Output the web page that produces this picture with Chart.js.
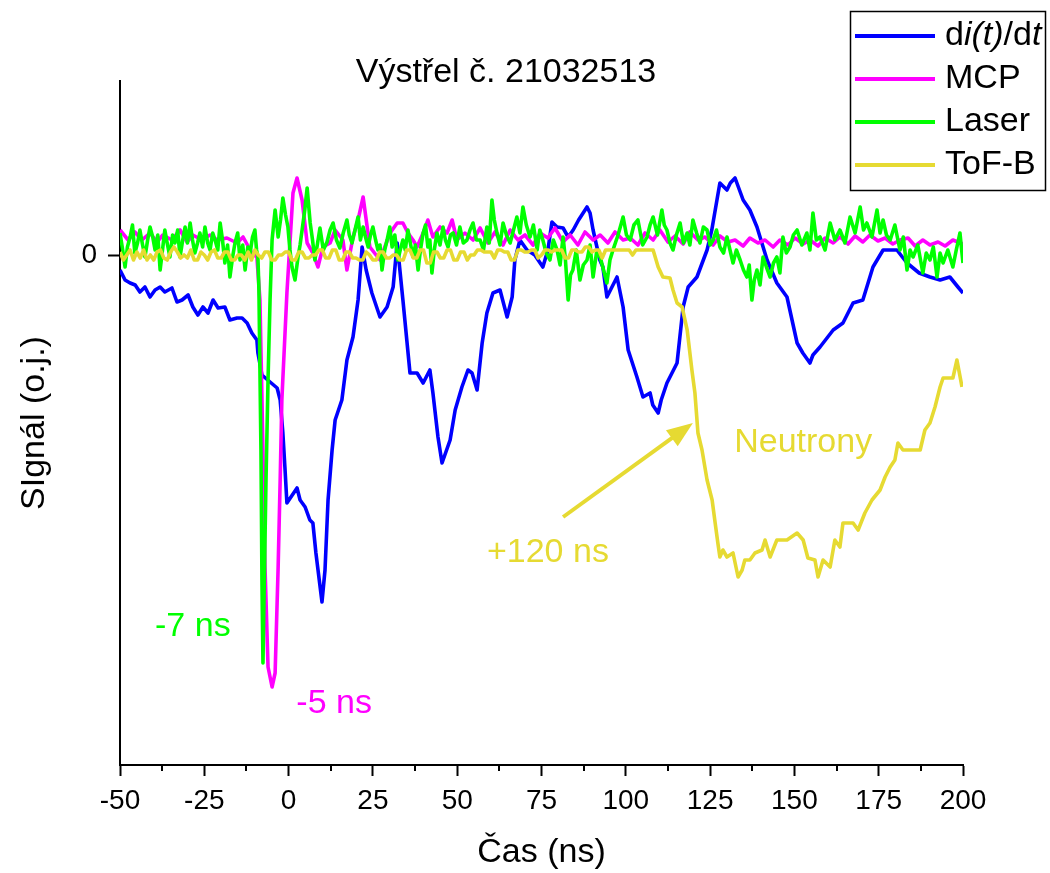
<!DOCTYPE html>
<html>
<head>
<meta charset="utf-8">
<title>Výstřel č. 21032513</title>
<script src="https://cdn.jsdelivr.net/npm/chart.js@4.4.1/dist/chart.umd.min.js"></script>
<style>
  html, body { margin: 0; padding: 0; background: #fff; }
  canvas { display: block; }
</style>
</head>
<body>
<canvas id="shotChart" width="1050" height="873"></canvas>
<script>
const FONT = "'Liberation Sans', Arial, sans-serif";

const chartTitle = 'Výstřel č. 21032513';
const xTitle = 'Čas (ns)';
const yTitle = 'SIgnál (o.j.)';
// *...* = italic part of the legend text
const seriesNames = ['d*i(t)*/d*t*', 'MCP', 'Laser', 'ToF-B'];
const seriesColors = ['#0000ff', '#ff00ff', '#00ff00', '#e6da32'];

const xTicks = [-50, -25, 0, 25, 50, 75, 100, 125, 150, 175, 200];
const xMinorTicks = [-37.5, -12.5, 12.5, 37.5, 62.5, 87.5, 112.5, 137.5, 162.5, 187.5];
const yTicks = [0];

// di(t)/dt
const diTime = [
  -50, -48.5, -47.0, -45.5, -44.1, -42.6, -41.1, -39.6, -38.1, -36.7,
  -34.6, -33.1, -31.6, -29.8, -28.4, -26.9, -25.4, -23.9, -22.4, -20.9,
  -18.9, -17.4, -15.3, -13.8, -12.3, -10.9, -9.4, -9.1, -7.9, -5.5,
  -3.4, -2.5, -1.7, -1.1, -0.5, 2.5, 3.4, 4.9, 6.3, 7.2,
  8.1, 9.9, 10.8, 11.7, 12.9, 13.8, 15.8, 17.3, 19.1, 20.6,
  21.8, 23.0, 24.7, 27.1, 29.2, 31.0, 32.2, 33.9, 36.0, 38.1,
  39.9, 41.9, 42.8, 44.3, 45.5, 47.9, 49.4, 51.4, 53.2, 54.4,
  55.9, 57.4, 58.8, 60.6, 62.7, 64.8, 66.3, 67.1, 68.6, 70.7,
  73.0, 75.4, 76.9, 78.1, 79.6, 81.4, 82.9, 84.4, 86.0, 88.5,
  89.4, 90.3, 92.3, 93.2, 94.4, 97.4, 99.2, 100.7, 103.3, 105.1,
  107.2, 108.0, 109.6, 110.5, 112.2, 115.2, 117.0, 118.5, 121.1, 124.1,
  125.5, 127.9, 130.0, 131.0, 132.4, 134.8, 136.8, 138.9, 141.9, 144.8,
  147.8, 150.8, 152.5, 154.6, 155.5, 157.6, 161.5, 164.4, 167.4, 170.3,
  173.3, 176.3, 180.4, 183.4, 187.0, 190.2, 193.2, 196.1, 198.5, 200.0
];
const diSignal = [
  -0.15, -0.25, -0.28, -0.30, -0.37, -0.32, -0.42, -0.35, -0.32, -0.37,
  -0.33, -0.47, -0.45, -0.40, -0.52, -0.60, -0.52, -0.58, -0.45, -0.53,
  -0.52, -0.65, -0.63, -0.63, -0.68, -0.78, -0.85, -0.98, -1.20, -1.27,
  -1.33, -1.45, -1.78, -2.12, -2.48, -2.33, -2.45, -2.52, -2.65, -2.68,
  -2.98, -3.47, -3.15, -2.45, -1.95, -1.65, -1.45, -1.05, -0.82, -0.45,
  0.08, -0.15, -0.38, -0.62, -0.52, -0.32, 0.12, -0.45, -1.18, -1.18,
  -1.28, -1.15, -1.38, -1.82, -2.08, -1.85, -1.55, -1.32, -1.15, -1.18,
  -1.35, -0.88, -0.58, -0.38, -0.35, -0.62, -0.42, -0.05, 0.15, 0.05,
  0.0, -0.12, 0.05, 0.33, 0.28, 0.27, 0.18, 0.25, 0.35, 0.48,
  0.42, 0.25, -0.05, -0.12, -0.42, -0.22, -0.52, -0.95, -1.22, -1.42,
  -1.38, -1.50, -1.58, -1.45, -1.28, -1.08, -0.52, -0.32, -0.22, 0.05,
  0.25, 0.72, 0.65, 0.72, 0.77, 0.55, 0.45, 0.28, -0.05, -0.28,
  -0.42, -0.88, -0.98, -1.08, -1.00, -0.92, -0.75, -0.68, -0.48, -0.45,
  -0.12, 0.05, 0.05, -0.08, -0.18, -0.22, -0.25, -0.22, -0.32, -0.38
];

// MCP
const mcpTime = [
  -50.0, -47.6, -45.6, -43.5, -41.1, -39.0, -37.3, -34.6, -32.2, -30.1,
  -28.4, -25.7, -23.3, -21.2, -18.3, -15.3, -13.5, -10.9, -9.4, -8.5,
  -7.9, -7.0, -6.1, -4.9, -4.0, -3.1, -2.5, -2.0, -0.5, 1.3,
  2.5, 4.0, 5.5, 7.2, 8.7, 10.2, 12.3, 13.8, 16.1, 17.3,
  19.1, 20.6, 22.1, 23.3, 24.1, 27.1, 30.1, 32.2, 33.9, 35.4,
  36.9, 38.1, 39.9, 41.3, 42.8, 44.9, 47.0, 48.5, 49.9, 52.3,
  54.7, 56.8, 59.1, 61.2, 63.6, 65.7, 68.0, 70.1, 72.5, 74.6,
  76.9, 79.0, 81.4, 83.5, 85.8, 87.9, 90.3, 92.4, 94.7, 96.8,
  99.2, 101.3, 103.6, 105.7, 108.1, 110.1, 112.5, 114.6, 117.0, 119.0,
  121.4, 123.5, 125.9, 127.9, 130.3, 132.4, 134.8, 136.8, 139.2, 141.3,
  143.7, 145.7, 148.1, 150.2, 152.6, 154.6, 157.0, 159.1, 161.5, 163.5,
  165.9, 168.0, 170.3, 172.4, 174.8, 176.9, 179.2, 181.3, 183.7, 185.8,
  188.1, 190.2, 192.6, 194.7, 197.0, 200.0
];
const mcpSignal = [
  0.25, 0.15, 0.23, 0.15, 0.22, 0.13, 0.20, 0.15, 0.25, 0.13,
  0.20, 0.15, 0.20, 0.15, 0.17, 0.12, 0.18, 0.02, -0.02, -0.45,
  -1.45, -3.12, -4.12, -4.32, -4.18, -3.12, -2.25, -1.45, -0.38, 0.62,
  0.77, 0.55, 0.12, 0.02, -0.12, 0.08, 0.12, 0.25, 0.15, -0.15,
  0.18, 0.35, 0.58, 0.28, 0.08, -0.05, 0.22, 0.32, 0.32, 0.22,
  0.15, 0.08, 0.22, 0.35, 0.18, 0.28, 0.22, 0.35, 0.15, 0.22,
  0.15, 0.27, 0.12, 0.23, 0.10, 0.25, 0.15, 0.20, 0.10, 0.22,
  0.17, 0.27, 0.13, 0.20, 0.10, 0.23, 0.15, 0.20, 0.12, 0.23,
  0.15, 0.17, 0.10, 0.22, 0.15, 0.25, 0.13, 0.19, 0.11, 0.23,
  0.15, 0.18, 0.10, 0.19, 0.13, 0.15, 0.09, 0.17, 0.12, 0.15,
  0.08, 0.15, 0.10, 0.17, 0.11, 0.15, 0.09, 0.17, 0.12, 0.18,
  0.11, 0.19, 0.13, 0.20, 0.14, 0.17, 0.11, 0.15, 0.17, 0.09,
  0.15, 0.10, 0.13, 0.09, 0.15, 0.11
];

// Laser
const laserTime = [
  -50.0, -49.2, -48.5, -47.8, -47.0, -46.3, -45.6, -44.8, -44.1, -43.3,
  -42.6, -41.8, -41.1, -40.3, -39.6, -38.8, -38.1, -37.4, -36.7, -35.9,
  -35.2, -34.4, -33.7, -32.9, -32.2, -31.4, -30.7, -30.0, -29.2, -28.5,
  -27.8, -27.0, -26.3, -25.5, -24.8, -24.0, -23.3, -22.5, -21.8, -21.0,
  -20.3, -19.6, -18.9, -18.1, -17.4, -16.6, -15.9, -15.1, -14.4, -13.6,
  -12.9, -12.1, -11.4, -10.7, -10.0, -9.5, -9.1, -8.8, -8.2, -7.9,
  -7.6, -7.3, -6.7, -6.1, -5.5, -4.9, -4.0, -3.1, -2.4, -1.7,
  -0.9, -0.2, 0.4, 1.0, 1.9, 2.8, 3.4, 4.0, 4.8, 5.5,
  6.4, 7.1, 7.8, 8.6, 9.3, 10.3, 11.4, 12.3, 13.2, 14.2,
  15.2, 16.2, 17.3, 18.0, 18.8, 19.7, 20.6, 21.3, 22.1, 22.8,
  23.6, 24.3, 25.0, 25.8, 26.5, 27.1, 27.7, 28.5, 29.2, 30.0,
  30.7, 31.5, 32.4, 33.1, 33.9, 34.6, 35.4, 36.1, 36.9, 37.6,
  38.4, 39.1, 39.9, 40.6, 41.3, 41.9, 42.5, 43.2, 44.0, 44.9,
  45.8, 46.5, 47.3, 48.0, 48.8, 49.8, 50.8, 51.8, 52.9, 53.8,
  54.7, 55.7, 56.8, 57.8, 58.8, 59.5, 60.3, 61.0, 61.8, 62.7,
  63.6, 64.6, 65.7, 66.7, 67.7, 68.6, 69.5, 70.5, 71.6, 72.6,
  73.7, 74.5, 75.4, 76.4, 77.5, 78.5, 79.6, 80.5, 81.4, 82.1,
  82.9, 83.6, 84.3, 85.3, 86.4, 87.4, 88.5, 89.4, 90.3, 91.3,
  92.4, 93.4, 94.4, 95.3, 96.2, 97.7, 99.2, 100.2, 101.3, 102.4,
  103.6, 105.0, 106.3, 107.2, 108.1, 109.4, 110.7, 111.4, 112.2, 113.1,
  114.0, 115.0, 116.1, 117.1, 118.2, 119.0, 119.9, 121.0, 122.0, 123.0,
  124.1, 125.0, 125.9, 126.9, 127.9, 129.0, 130.0, 130.9, 131.8, 132.8,
  133.9, 134.9, 135.9, 136.6, 137.4, 138.1, 138.9, 139.8, 140.7, 141.7,
  142.8, 143.8, 144.8, 145.7, 146.6, 147.6, 148.7, 149.7, 150.8, 152.2,
  153.7, 154.6, 155.5, 156.5, 157.6, 159.1, 160.6, 162.0, 163.5, 165.0,
  166.5, 168.0, 169.5, 170.5, 171.5, 173.0, 174.5, 175.4, 176.3, 177.3,
  178.4, 179.8, 181.3, 182.3, 183.4, 184.3, 185.2, 186.6, 188.1, 189.1,
  190.2, 191.2, 192.3, 193.2, 194.1, 195.5, 197.0, 198.0, 199.1, 199.6,
  200.0
];
const laserSignal = [
  0.22, 0.05, -0.12, 0.08, 0.18, 0.30, 0.02, 0.12, 0.25, 0.10,
  -0.02, 0.15, 0.28, 0.18, 0.05, 0.20, -0.15, 0.05, 0.25, 0.10,
  -0.02, 0.20, 0.12, 0.25, -0.02, 0.15, 0.28, 0.12, 0.32, 0.15,
  0.02, 0.12, 0.22, 0.08, 0.28, 0.12, 0.05, 0.22, 0.15, 0.05,
  0.32, 0.15, -0.08, 0.10, -0.22, -0.02, 0.12, 0.22, -0.05, 0.10,
  -0.15, 0.08, 0.02, 0.18, 0.25, 0.05, -0.02, -0.35, -1.95, -3.25,
  -4.08, -3.45, -2.25, -1.25, -0.45, 0.15, 0.45, 0.18, 0.35, 0.57,
  0.40, 0.28, 0.05, -0.12, -0.25, -0.02, 0.10, 0.25, 0.45, 0.67,
  0.32, 0.15, -0.05, 0.12, 0.27, 0.05, 0.13, 0.25, 0.32, 0.15,
  0.07, 0.22, 0.35, 0.20, 0.12, 0.25, 0.38, 0.15, 0.28, 0.18,
  0.08, 0.20, 0.28, 0.15, 0.05, 0.10, -0.15, 0.05, 0.15, 0.28,
  0.08, 0.20, -0.05, 0.05, 0.15, 0.05, 0.25, 0.12, -0.02, 0.10,
  -0.15, 0.05, 0.22, 0.30, 0.08, 0.15, -0.18, 0.05, 0.22, 0.10,
  0.28, 0.15, 0.08, 0.20, 0.22, 0.10, 0.28, 0.12, 0.15, 0.25,
  0.32, 0.15, 0.15, 0.05, 0.28, 0.12, 0.55, 0.35, 0.22, 0.10,
  0.32, 0.20, 0.12, 0.25, 0.38, 0.22, 0.48, 0.30, 0.18, 0.30,
  0.05, 0.25, 0.15, 0.02, -0.05, 0.15, 0.05, -0.10, 0.18, -0.05,
  -0.45, -0.20, -0.15, 0.05, -0.25, -0.10, -0.05, 0.10, -0.22, 0.02,
  -0.02, -0.15, -0.28, -0.05, 0.05, 0.20, 0.38, 0.20, 0.15, 0.30,
  0.35, 0.10, 0.18, 0.30, 0.38, 0.20, 0.45, 0.30, 0.25, 0.12,
  0.05, 0.20, 0.32, 0.12, 0.22, 0.10, 0.35, 0.22, 0.12, 0.28,
  0.25, 0.10, 0.15, 0.25, 0.08, 0.02, 0.18, 0.05, -0.08, 0.05,
  -0.05, -0.15, -0.22, -0.10, -0.45, -0.25, -0.15, -0.30, -0.02, -0.12,
  -0.22, -0.08, -0.02, -0.18, 0.18, 0.02, 0.08, 0.20, 0.25, 0.10,
  0.22, 0.05, 0.42, 0.15, 0.18, 0.05, 0.32, 0.15, 0.25, 0.12,
  0.38, 0.22, 0.48, 0.25, 0.32, 0.18, 0.45, 0.22, 0.35, 0.20,
  0.15, 0.30, 0.05, 0.18, -0.15, 0.05, -0.02, 0.10, -0.18, 0.02,
  -0.05, 0.08, -0.22, 0.02, -0.08, 0.05, -0.12, 0.05, 0.22, 0.05,
  -0.08
];

// ToF-B
const tofTime = [
  -50, -49, -48, -47, -46, -45, -44, -43, -42, -41,
  -40, -39, -38, -37, -36, -35, -34, -33, -32, -31,
  -30, -29, -28, -27, -26, -25, -24, -23, -22, -21,
  -20, -19, -18, -17, -16, -15, -14, -13, -12, -11,
  -10, -9, -8, -7, -6, -5, -4, -3, -2, -1,
  0, 1, 2, 3, 4, 5, 6, 7, 8, 9,
  10, 11, 12, 13, 14, 15, 16, 17, 18, 19,
  20, 21, 22, 23, 24, 25, 26, 27, 28, 29,
  30, 31, 32, 33, 34, 35, 36, 37, 38, 39,
  40, 41, 42, 43, 44, 45, 46, 47, 48, 49,
  50, 51, 52, 53, 54, 55, 56, 57, 58, 59,
  60, 61, 62, 63, 64, 65, 66, 67, 68, 69,
  70, 71, 72, 73, 74, 75, 76, 77, 78, 79,
  80, 81, 82, 83, 84, 85, 86, 87, 88, 89,
  90, 91, 92, 93, 94, 95, 96, 97, 98, 99,
  100, 101, 102, 103, 104, 105, 106, 107, 108.1, 109.6,
  111.0, 113.1, 114.0, 115.2, 116.7, 118.2, 119.6, 120.5, 121.4, 122.6,
  124.1, 125.6, 126.5, 127.3, 127.9, 128.8, 130.0, 131.8, 133.3, 134.5,
  135.3, 136.8, 138.3, 140.4, 141.3, 142.8, 144.8, 147.8, 150.8, 152.6,
  154.0, 156.1, 157.0, 158.5, 160.6, 162.0, 163.5, 164.4, 167.4, 168.9,
  170.9, 173.0, 175.4, 176.9, 178.4, 179.8, 180.7, 182.2, 185.2, 187.3,
  188.7, 190.2, 191.7, 193.2, 194.1, 197.0, 198.2, 199.7
];
const tofSignal = [
  0.03, -0.05, 0.0, 0.05, -0.05, 0.03, -0.03, 0.05, -0.05, 0.0,
  -0.05, 0.03, 0.05, -0.03, -0.05, 0.03, 0.08, 0.03, -0.03, 0.0,
  -0.03, 0.05, -0.05, -0.05, 0.03, 0.0, -0.05, 0.03, 0.05, -0.03,
  -0.03, 0.03, 0.03, -0.05, -0.05, 0.0, 0.0, -0.05, 0.03, -0.05,
  0.05, 0.0, -0.03, 0.03, 0.03, -0.05, -0.05, 0.0, 0.0, 0.03,
  0.03, -0.05, -0.05, 0.03, 0.03, -0.03, -0.03, 0.0, 0.0, 0.05,
  0.05, -0.03, -0.03, 0.05, 0.05, -0.05, -0.05, 0.03, 0.03, -0.03,
  -0.03, -0.05, -0.05, 0.03, 0.0, -0.05, -0.05, 0.03, 0.03, -0.03,
  -0.03, 0.0, 0.0, -0.05, -0.05, 0.05, 0.05, -0.03, -0.03, 0.05,
  0.05, -0.08, -0.08, 0.03, 0.03, -0.03, -0.03, 0.05, 0.05, -0.05,
  -0.05, 0.03, 0.03, -0.05, 0.0, 0.0, 0.05, 0.05, 0.03, 0.03,
  0.03, -0.03, 0.05, 0.05, 0.03, 0.03, -0.05, -0.05, 0.05, 0.05,
  0.03, 0.03, 0.05, 0.05, -0.03, 0.0, 0.05, 0.05, 0.03, 0.05,
  0.05, 0.05, -0.03, -0.03, 0.05, 0.05, 0.03, 0.03, 0.08, 0.08,
  0.03, 0.05, 0.05, -0.03, 0.05, 0.05, 0.05, 0.05, 0.05, 0.05,
  0.05, 0.05, 0.0, 0.05, 0.05, 0.05, 0.05, 0.05, 0.05, -0.12,
  -0.22, -0.23, -0.35, -0.48, -0.52, -0.75, -1.15, -1.38, -1.78, -1.95,
  -2.25, -2.45, -2.68, -2.88, -3.02, -2.95, -3.02, -2.98, -3.22, -3.15,
  -3.05, -3.05, -2.98, -2.95, -2.85, -3.02, -2.85, -2.85, -2.78, -2.85,
  -3.03, -3.05, -3.22, -3.05, -3.12, -2.85, -2.92, -2.68, -2.68, -2.75,
  -2.58, -2.45, -2.35, -2.22, -2.12, -2.05, -1.88, -1.95, -1.95, -1.95,
  -1.75, -1.68, -1.52, -1.32, -1.23, -1.23, -1.05, -1.32
];

// text annotations, placed in data coordinates
const notes = [
  { text: '-7 ns', t: -28.4, v: -3.72, color: seriesColors[2] },
  { text: '-5 ns', t: 13.5, v: -4.49, color: seriesColors[1] },
  { text: 'Neutrony', t: 152.6, v: -1.88, color: seriesColors[3] },
  { text: '+120 ns', t: 76.9, v: -2.98, color: seriesColors[3] }
];
const arrowFrom = { t: 81.4, v: -2.62 };
const arrowTo = { t: 119.9, v: -1.68 };

function toPoints(times, values) {
  return times.map((t, i) => ({ x: t, y: values[i] }));
}

const overlayPlugin = {
  id: 'overlay',
  afterDraw(chart) {
    const { ctx, chartArea } = chart;
    const xs = chart.scales.x, ys = chart.scales.y;
    ctx.save();

    // minor ticks on the time axis
    ctx.strokeStyle = '#000';
    ctx.lineWidth = 2;
    xMinorTicks.forEach(t => {
      const px = Math.round(xs.getPixelForValue(t));
      ctx.beginPath();
      ctx.moveTo(px, chartArea.bottom);
      ctx.lineTo(px, chartArea.bottom + 6);
      ctx.stroke();
    });

    // arrow to the neutron signal
    const x0 = xs.getPixelForValue(arrowFrom.t), y0 = ys.getPixelForValue(arrowFrom.v);
    const x1 = xs.getPixelForValue(arrowTo.t), y1 = ys.getPixelForValue(arrowTo.v);
    const ang = Math.atan2(y1 - y0, x1 - x0);
    ctx.strokeStyle = seriesColors[3];
    ctx.fillStyle = seriesColors[3];
    ctx.lineWidth = 4;
    ctx.beginPath();
    ctx.moveTo(x0, y0);
    ctx.lineTo(x1 - 20 * Math.cos(ang), y1 - 20 * Math.sin(ang));
    ctx.stroke();
    ctx.beginPath();
    ctx.moveTo(x1, y1);
    ctx.lineTo(x1 - 26 * Math.cos(ang) + 10 * Math.sin(ang), y1 - 26 * Math.sin(ang) - 10 * Math.cos(ang));
    ctx.lineTo(x1 - 26 * Math.cos(ang) - 10 * Math.sin(ang), y1 - 26 * Math.sin(ang) + 10 * Math.cos(ang));
    ctx.closePath();
    ctx.fill();

    // notes
    ctx.font = '34px ' + FONT;
    ctx.textAlign = 'center';
    ctx.textBaseline = 'middle';
    notes.forEach(n => {
      ctx.fillStyle = n.color;
      ctx.fillText(n.text, xs.getPixelForValue(n.t), ys.getPixelForValue(n.v));
    });

    // title
    ctx.fillStyle = '#000';
    ctx.fillText(chartTitle, 506, 73);

    // legend box
    ctx.strokeStyle = '#000';
    ctx.lineWidth = 1.5;
    ctx.strokeRect(850.5, 11.5, 195, 179);
    ctx.textAlign = 'left';
    seriesNames.forEach((name, i) => {
      const ry = 36 + i * 43;
      ctx.strokeStyle = seriesColors[i];
      ctx.lineWidth = 4;
      ctx.beginPath();
      ctx.moveTo(855, ry);
      ctx.lineTo(935, ry);
      ctx.stroke();
      let tx = 945;
      ctx.fillStyle = '#000';
      name.split('*').forEach((part, k) => {
        if (!part) return;
        ctx.font = (k % 2 ? 'italic ' : '') + '34px ' + FONT;
        ctx.fillText(part, tx, ry);
        tx += ctx.measureText(part).width;
      });
    });
    ctx.restore();
  }
};

const axisFont = { family: FONT, size: 28 };
const titleFont = { family: FONT, size: 34 };

new Chart(document.getElementById('shotChart'), {
  type: 'line',
  data: {
    datasets: [
      { label: 'di(t)/dt', data: toPoints(diTime, diSignal), borderColor: seriesColors[0], order: 4 },
      { label: 'MCP', data: toPoints(mcpTime, mcpSignal), borderColor: seriesColors[1], order: 3 },
      { label: 'Laser', data: toPoints(laserTime, laserSignal), borderColor: seriesColors[2], order: 2 },
      { label: 'ToF-B', data: toPoints(tofTime, tofSignal), borderColor: seriesColors[3], order: 1 }
    ]
  },
  options: {
    responsive: false,
    animation: false,
    layout: { padding: { top: 81, right: 87, left: 0, bottom: 0 } },
    elements: {
      point: { radius: 0 },
      line: { borderWidth: 3.6, tension: 0, fill: false, borderJoinStyle: 'round' }
    },
    plugins: {
      legend: { display: false },
      tooltip: { enabled: false }
    },
    scales: {
      x: {
        type: 'linear',
        min: -50,
        max: 200,
        afterBuildTicks: s => { s.ticks = xTicks.map(v => ({ value: v })); },
        afterFit: s => { s.height = 108; },
        ticks: { font: axisFont, color: '#000', padding: 8, maxRotation: 0 },
        grid: { drawOnChartArea: false, color: '#000', tickLength: 11, tickWidth: 2 },
        border: { color: '#000', width: 2 },
        title: { display: true, text: xTitle, font: titleFont, color: '#000', padding: 0 }
      },
      y: {
        type: 'linear',
        min: -5.10,
        max: 1.74,
        afterBuildTicks: s => { s.ticks = yTicks.map(v => ({ value: v })); },
        afterFit: s => { s.width = 120; },
        ticks: { font: axisFont, color: '#000', padding: 11 },
        grid: { drawOnChartArea: false, color: '#000', tickLength: 12, tickWidth: 2 },
        border: { color: '#000', width: 2 },
        title: { display: true, text: yTitle, font: titleFont, color: '#000', padding: { top: 14 } }
      }
    }
  },
  plugins: [overlayPlugin]
});
</script>
</body>
</html>
